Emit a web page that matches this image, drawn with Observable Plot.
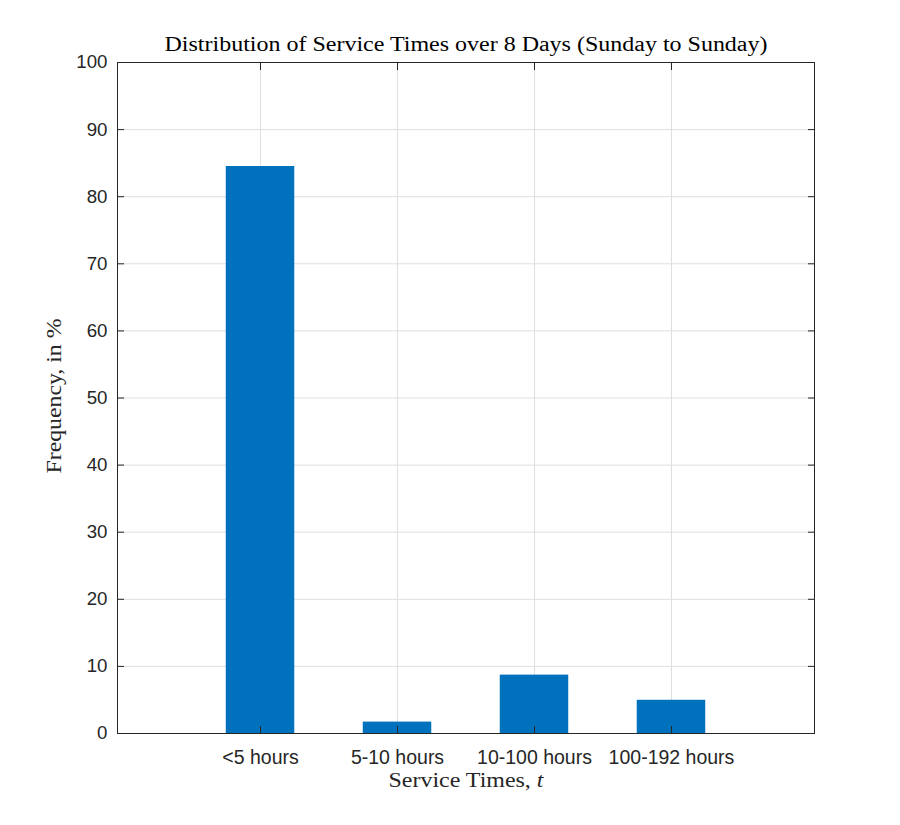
<!DOCTYPE html>
<html>
<head>
<meta charset="utf-8">
<script src="https://cdn.jsdelivr.net/npm/d3@7"></script>
<script src="https://cdn.jsdelivr.net/npm/@observablehq/plot@0.6"></script>
<style>
  html, body { margin: 0; padding: 0; background: #fff; }
  #chart { position: relative; width: 900px; height: 825px; }
</style>
</head>
<body>
<div id="chart"></div>
<script>
const categories = ["<5 hours", "5-10 hours", "10-100 hours", "100-192 hours"];
const frequencies = [84.5, 1.7, 8.7, 4.95];
const yTicks = [0, 10, 20, 30, 40, 50, 60, 70, 80, 90, 100];
const titleText = "Distribution of Service Times over 8 Days (Sunday to Sunday)";
const yLabelText = "Frequency, in %";
const xLabelText = "Service Times, ";
const xLabelVar = "t";

const positions = categories.map((c, i) => i + 1);
const bars = categories.map((c, i) => ({cat: c, pos: i + 1, value: frequencies[i]}));
const barHalf = 0.25;
const ink = "#262626";
const gridColor = "#dfdfdf";
const sans = "'Liberation Sans', Arial, sans-serif";
const serif = "'Liberation Serif', 'DejaVu Serif', serif";

const plot = Plot.plot({
  width: 900,
  height: 825,
  marginLeft: 117,
  marginRight: 86,
  marginTop: 62,
  marginBottom: 92,
  style: {fontFamily: sans, fontSize: "18.7px", color: ink, background: "white"},
  x: {domain: [-0.044, 5.044], label: null},
  y: {domain: [0, 100], label: null},
  marks: [
    Plot.ruleY(yTicks, {stroke: gridColor, strokeWidth: 1}),
    Plot.ruleX(positions, {stroke: gridColor, strokeWidth: 1}),
    Plot.rectY(bars, {x1: d => d.pos - barHalf, x2: d => d.pos + barHalf, y: "value", fill: "#0072bd"}),
    Plot.axisY({anchor: "left", ticks: yTicks, tickSize: -7, tickPadding: 17, tickFormat: d => d, stroke: ink, fill: ink, label: null}),
    Plot.axisY({anchor: "right", ticks: yTicks, tickSize: -7, text: null, stroke: ink, label: null}),
    Plot.axisX({anchor: "bottom", ticks: positions, tickSize: -7, tickPadding: 24, tickFormat: d => categories[d - 1], stroke: ink, fill: ink, fontSize: 19.5, label: null}),
    Plot.axisX({anchor: "top", ticks: positions, tickSize: -7, text: null, stroke: ink, label: null}),
    Plot.frame({stroke: ink, strokeWidth: 1})
  ]
});

document.getElementById("chart").appendChild(plot);

const svg = d3.select(plot);
svg.append("text")
  .attr("x", 466).attr("y", 51)
  .attr("text-anchor", "middle")
  .attr("textLength", 603).attr("lengthAdjust", "spacingAndGlyphs")
  .style("font-family", serif).style("font-size", "20px").style("fill", "#000")
  .text(titleText);

svg.append("text")
  .attr("transform", "translate(61,396) rotate(-90)")
  .attr("text-anchor", "middle")
  .attr("textLength", 155).attr("lengthAdjust", "spacingAndGlyphs")
  .style("font-family", serif).style("font-size", "20px").style("fill", ink)
  .text(yLabelText);

const xl = svg.append("text")
  .attr("x", 466).attr("y", 787)
  .attr("text-anchor", "middle")
  .attr("textLength", 155).attr("lengthAdjust", "spacingAndGlyphs")
  .style("font-family", serif).style("font-size", "20px").style("fill", ink);
xl.append("tspan").text(xLabelText);
xl.append("tspan").style("font-style", "italic").text(xLabelVar);
</script>
</body>
</html>
